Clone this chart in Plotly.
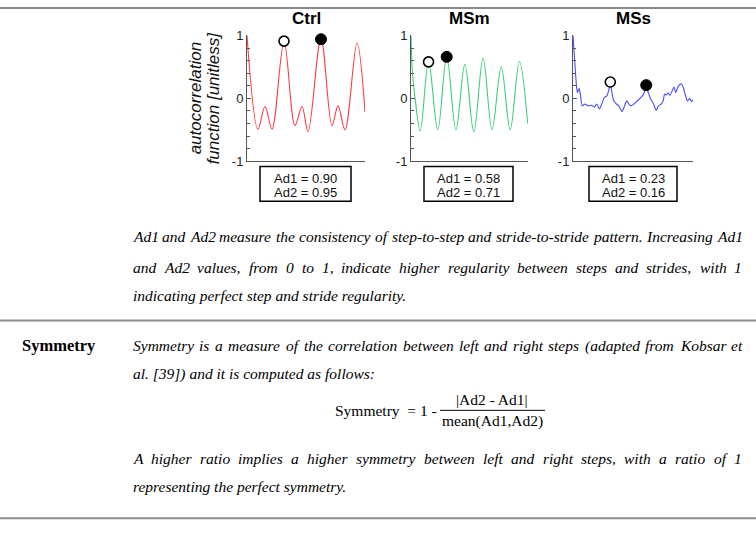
import plotly.graph_objects as go

W, H = 756, 533

# ---------------- data ----------------
groups = ["Ctrl", "MSm", "MSs"]
ad1 = [0.90, 0.58, 0.23]
ad2 = [0.95, 0.71, 0.16]

ctrl_lag = [0, 11, 18, 25, 37, 48, 55, 61, 74, 85, 91, 98, 110, 118]
ctrl_acf = [1.0, -0.49, -0.13, -0.49, 0.90, -0.43, -0.13, -0.53, 0.95, -0.43, -0.12, -0.50, 0.88, -0.22]

msm_lag = [0, 1.5, 4, 9.3, 17.7, 27, 36, 45.3, 54.3, 63.3, 72.7, 81.7, 91, 100, 109.3, 117.7]
msm_acf = [1.0, 0.40, 0.02, -0.52, 0.58, -0.50, 0.66, -0.50, 0.54, -0.53, 0.64, -0.50, 0.50, -0.50, 0.59, -0.40]

mss_lag = [0, 3.3, 4.3, 6, 7.3, 9, 11.7, 15, 18.3, 20.7, 23.3, 26, 28.3, 30.7, 33.3, 35.3, 36.7,
           38.3, 40, 42.7, 45, 48.3, 50.7, 52.7, 55, 57.3, 60, 63.3, 66.7, 70, 72, 74, 76.7, 79.3,
           81.7, 84, 86.7, 88.7, 90, 91.7, 93.3, 95.3, 97.3, 99.3, 101, 102.7, 104.3, 106.7, 108.7,
           110.7, 112.7, 114.7, 116.7, 119.3]
mss_acf = [1.0, 0.22, 0.09, 0.16, 0.06, -0.12, -0.09, -0.12, -0.11, -0.14, -0.09, -0.17, -0.09,
           0.01, 0.04, 0.14, 0.25, 0.09, -0.04, -0.09, -0.12, -0.21, -0.12, -0.04, -0.09, -0.12,
           -0.09, -0.04, 0.01, 0.09, 0.20, 0.09, -0.02, -0.09, -0.19, -0.12, -0.09, -0.04, 0.07,
           0.05, 0.09, 0.05, 0.11, 0.18, 0.09, 0.16, 0.21, 0.23, 0.16, 0.04, -0.04, 0.0, -0.05, 0.0]

# marker positions (Ad1 open, Ad2 filled)
ctrl_mark_lag = [37, 74]
ctrl_mark_val = [0.91, 0.94]
msm_mark_lag = [17.7, 36]
msm_mark_val = [0.58, 0.66]
mss_mark_lag = [36.7, 72]
mss_mark_val = [0.26, 0.21]

ytick_vals = [-1, 0, 1]
ytick_text = ["-1", "0", "1"]

# ---------------- helpers ----------------
def px(x):
    return x / W

def py(y):
    return 1 - y / H

fig = go.Figure()

panels = [
    dict(name="Ctrl", lag=ctrl_lag, acf=ctrl_acf, ml=ctrl_mark_lag, mv=ctrl_mark_val,
         color="#ff3b3b", x0=247, x1=365, box=(260, 351), smooth=1.0),
    dict(name="MSm", lag=msm_lag, acf=msm_acf, ml=msm_mark_lag, mv=msm_mark_val,
         color="#3ccf7a", x0=411, x1=528, box=(424, 513), smooth=1.0),
    dict(name="MSs", lag=mss_lag, acf=mss_acf, ml=mss_mark_lag, mv=mss_mark_val,
         color="#4a4aff", x0=573, x1=693, box=(589, 677), smooth=0.5),
]

PLOT_TOP, PLOT_BOT = 29.3, 158.7
BOX_TOP, BOX_BOT = 164.0, 200.0
annotations = []
shapes = []
sans = "Liberation Sans, Arial, sans-serif"
serif = "Liberation Serif, Times New Roman, serif"

for i, p in enumerate(panels):
    k = "" if i == 0 else str(i + 1)
    xa, ya = "x" + k, "y" + k
    fig.add_trace(go.Scatter(x=p["lag"], y=p["acf"], mode="lines", xaxis=xa, yaxis=ya,
                             line=dict(color=p["color"], width=1.1, shape="spline",
                                       smoothing=p["smooth"]),
                             showlegend=False, hoverinfo="skip"))
    fig.add_trace(go.Scatter(x=[p["ml"][0]], y=[p["mv"][0]], mode="markers", xaxis=xa, yaxis=ya,
                             marker=dict(size=10, color="white", line=dict(color="black", width=1.6)),
                             showlegend=False, cliponaxis=False, hoverinfo="skip"))
    fig.add_trace(go.Scatter(x=[p["ml"][1]], y=[p["mv"][1]], mode="markers", xaxis=xa, yaxis=ya,
                             marker=dict(size=11, color="black", line=dict(color="black", width=1)),
                             showlegend=False, cliponaxis=False, hoverinfo="skip"))
    fig.update_layout(**{
        "xaxis" + k: dict(domain=[px(p["x0"]), px(p["x1"])], range=[0, 118], showline=True,
                          linecolor="#555", linewidth=1, showticklabels=False, ticks="",
                          showgrid=False, zeroline=False, anchor=ya, fixedrange=True),
        "yaxis" + k: dict(domain=[py(PLOT_BOT), py(PLOT_TOP)], range=[-1, 1], showline=True,
                          linecolor="#555", linewidth=1, tickvals=ytick_vals, ticktext=ytick_text,
                          ticks="inside", ticklen=4, tickcolor="#555", showgrid=False,
                          zeroline=False, anchor=xa,
                          tickfont=dict(family=sans, size=13, color="#222"),
                          minor=dict(dtick=0.2, ticks="inside", ticklen=3, tickcolor="#555",
                                     showgrid=False),
                          fixedrange=True),
    })
    cx = (p["x0"] + p["x1"]) / 2
    annotations.append(dict(text="<b>%s</b>" % p["name"], x=px(cx), y=py(12), xref="paper",
                            yref="paper", showarrow=False, xanchor="center", yanchor="middle",
                            borderpad=0, borderwidth=0,
                            font=dict(family=sans, size=17, color="black")))
    b0, b1 = p["box"]
    shapes.append(dict(type="rect", xref="paper", yref="paper", x0=px(b0), x1=px(b1),
                       y0=py(BOX_BOT), y1=py(BOX_TOP), line=dict(color="black", width=1.5)))
    annotations.append(dict(text="Ad1 = %.2f" % ad1[i], x=px((b0 + b1) / 2), y=py(176.5),
                            xref="paper", yref="paper", showarrow=False, xanchor="center",
                            yanchor="middle", borderpad=0, borderwidth=0,
                            font=dict(family=sans, size=13, color="#111")))
    annotations.append(dict(text="Ad2 = %.2f" % ad2[i], x=px((b0 + b1) / 2), y=py(191),
                            xref="paper", yref="paper", showarrow=False, xanchor="center",
                            yanchor="middle", borderpad=0, borderwidth=0,
                            font=dict(family=sans, size=13, color="#111")))

# y axis title (two rotated lines)
annotations.append(dict(text="<i>autocorrelation</i>", x=px(195), y=py(94), xref="paper",
                        yref="paper", showarrow=False, textangle=-90, xanchor="center",
                        yanchor="middle", borderpad=0, borderwidth=0,
                        font=dict(family=sans, size=17, color="#111")))
annotations.append(dict(text="<i>function [unitless]</i>", x=px(213), y=py(94), xref="paper",
                        yref="paper", showarrow=False, textangle=-90, xanchor="center",
                        yanchor="middle", borderpad=0, borderwidth=0,
                        font=dict(family=sans, size=17, color="#111")))

# ---------------- text blocks ----------------
TI = {' ': 250, 'a': 500, 'b': 500, 'c': 444, 'd': 500, 'e': 444, 'f': 278, 'g': 500, 'h': 500,
      'i': 278, 'j': 278, 'k': 444, 'l': 278, 'm': 722, 'n': 500, 'o': 500, 'p': 500, 'q': 500,
      'r': 389, 's': 389, 't': 278, 'u': 500, 'v': 444, 'w': 667, 'x': 444, 'y': 444, 'z': 389,
      'A': 611, 'I': 333, 'K': 667, 'S': 500, '.': 250, ',': 250, '-': 333, ':': 333, '[': 389,
      ']': 389, '(': 333, ')': 333}

def tw(s, size):
    return sum(TI.get(c, 500) for c in s) * size / 1000.0

FS = 15.5
TX0, TX1 = 133, 742

def justified(line, y):
    words = line.split(" ")
    widths = [tw(w, FS) for w in words]
    gap = (TX1 - TX0 - sum(widths)) / (len(words) - 1)
    x = TX0
    for w, wd in zip(words, widths):
        annotations.append(dict(text="<i>%s</i>" % w, x=px(x), y=py(y), xref="paper",
                                yref="paper", showarrow=False, xanchor="left", yanchor="middle",
                                borderpad=0, borderwidth=0,
                                font=dict(family=serif, size=FS, color="black")))
        x += wd + gap

def plain(line, y):
    annotations.append(dict(text="<i>%s</i>" % line, x=px(TX0), y=py(y), xref="paper",
                            yref="paper", showarrow=False, xanchor="left", yanchor="middle",
                            borderpad=0, borderwidth=0,
                            font=dict(family=serif, size=FS, color="black")))

justified("Ad1 and Ad2 measure the consistency of step-to-step and stride-to-stride pattern. Increasing Ad1", 236.5)
justified("and Ad2 values, from 0 to 1, indicate higher regularity between steps and strides, with 1", 268)
plain("indicating perfect step and stride regularity.", 297)

annotations.append(dict(text="<b>Symmetry</b>", x=px(22), y=py(348.5), xref="paper", yref="paper",
                        showarrow=False, xanchor="left", yanchor="middle", borderpad=0,
                        borderwidth=0, font=dict(family=serif, size=16.5, color="black")))
justified("Symmetry is a measure of the correlation between left and right steps (adapted from Kobsar et", 348.5)
plain("al. [39]) and it is computed as follows:", 378)

# formula
annotations.append(dict(text="Symmetry  = 1 -", x=px(437), y=py(415), xref="paper", yref="paper",
                        showarrow=False, xanchor="right", yanchor="middle", borderpad=0,
                        borderwidth=0, font=dict(family=serif, size=FS, color="black")))
annotations.append(dict(text="|Ad2 - Ad1|", x=px(492), y=py(403.5), xref="paper", yref="paper",
                        showarrow=False, xanchor="center", yanchor="middle", borderpad=0,
                        borderwidth=0, font=dict(family=serif, size=FS, color="black")))
annotations.append(dict(text="mean(Ad1,Ad2)", x=px(492), y=py(426.5), xref="paper", yref="paper",
                        showarrow=False, xanchor="center", yanchor="middle", borderpad=0,
                        borderwidth=0, font=dict(family=serif, size=FS, color="black")))
shapes.append(dict(type="line", xref="paper", yref="paper", x0=px(440), x1=px(545), y0=py(415),
                   y1=py(415), line=dict(color="black", width=1)))

justified("A higher ratio implies a higher symmetry between left and right steps, with a ratio of 1", 464.5)
plain("representing the perfect symmetry.", 493)

# rules
for yy in [1, 322.5, 526]:
    shapes.append(dict(type="line", xref="paper", yref="paper", x0=0, x1=1, y0=py(yy), y1=py(yy),
                       line=dict(color="#8a8a8a", width=2)))

fig.update_layout(width=W, height=H, autosize=False, margin=dict(l=0, r=0, t=0, b=0),
                  paper_bgcolor="white", plot_bgcolor="white", showlegend=False,
                  annotations=annotations, shapes=shapes)

fig.write_html("out.html", config={"displayModeBar": False, "staticPlot": True},
               post_script="document.body.style.margin='0';document.body.style.padding='0';")
